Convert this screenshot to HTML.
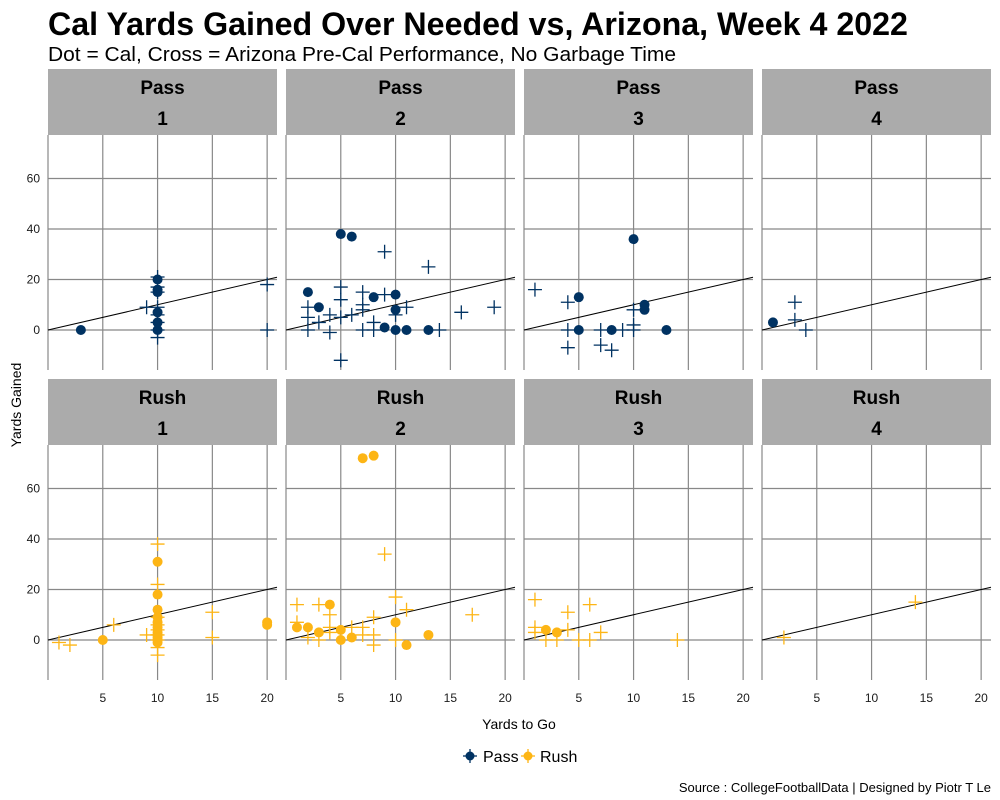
<!DOCTYPE html>
<html><head><meta charset="utf-8">
<style>
body{margin:0;background:#fff;}
svg{display:block;font-family:"Liberation Sans",Arial,sans-serif;}
</style></head>
<body>
<svg id="chart" width="1000" height="800" viewBox="0 0 1000 800">
<text x="48" y="35" font-size="32.2" font-weight="bold" fill="#000">Cal Yards Gained Over Needed vs, Arizona, Week 4 2022</text>
<text x="48" y="61" font-size="20" fill="#000" textLength="628" lengthAdjust="spacingAndGlyphs">Dot = Cal, Cross = Arizona Pre-Cal Performance, No Garbage Time</text>
<text transform="translate(21,405) rotate(-90)" text-anchor="middle" font-size="14" fill="#000">Yards Gained</text>
<text x="519" y="729" text-anchor="middle" font-size="14" fill="#000">Yards to Go</text>
<g>
  <g>
    <circle cx="470" cy="756" r="4.5" fill="#003262"/>
    <line x1="470" y1="749" x2="470" y2="763" stroke="#003262" stroke-width="1.3"/>
    <line x1="463" y1="756" x2="477" y2="756" stroke="#003262" stroke-width="1.3"/>
    <text x="483" y="762" font-size="16" fill="#000">Pass</text>
  </g>
  <g>
    <circle cx="528" cy="756" r="4.5" fill="#FDB515"/>
    <line x1="528" y1="749" x2="528" y2="763" stroke="#FDB515" stroke-width="1.3"/>
    <line x1="521" y1="756" x2="535" y2="756" stroke="#FDB515" stroke-width="1.3"/>
    <text x="540" y="762" font-size="16" fill="#000">Rush</text>
  </g>
</g>
<text x="991" y="792" text-anchor="end" font-size="13" fill="#000">Source : CollegeFootballData | Designed by Piotr T Le</text>
<g id="panels"></g>
</svg>
<script>
// data: [down, yardsToGo, yardsGained]
const downs = [1, 2, 3, 4];
const playTypes = ["Pass", "Rush"];
const yTicks = [0, 20, 40, 60];
const xTicks = [5, 10, 15, 20];
const calPass = [
 [1,3,0],[1,10,20],[1,10,16],[1,10,15],[1,10,7],[1,10,3],[1,10,0],
 [2,2,15],[2,3,9],[2,5,38],[2,6,37],[2,8,13],[2,10,14],[2,10,8],[2,9,1],[2,10,0],[2,11,0],[2,13,0],
 [3,5,13],[3,5,0],[3,10,36],[3,11,10],[3,11,8],[3,8,0],[3,13,0],
 [4,1,3]
];
const azPass = [
 [1,10,21],[1,10,17],[1,10,15],[1,10,9],[1,10,6],[1,10,3],[1,10,0],[1,10,-3],[1,9,9],[1,20,18],[1,20,0],
 [2,2,9],[2,2,5],[2,2,0],[2,3,3],[2,4,6],[2,4,-1],[2,5,17],[2,5,12],[2,5,5],[2,5,-12],[2,6,6],[2,7,15],[2,7,10],[2,7,8],[2,7,0],[2,8,3],[2,8,0],[2,9,31],[2,9,14],[2,10,6],[2,11,9],[2,13,25],[2,14,0],[2,16,7],[2,19,9],
 [3,1,16],[3,4,11],[3,4,0],[3,4,-7],[3,7,0],[3,7,-6],[3,8,-8],[3,9,0],[3,10,8],[3,10,2],[3,10,0],
 [4,3,11],[4,3,4],[4,4,0]
];
const calRush = [
 [1,5,0],[1,10,31],[1,10,18],[1,10,12],[1,10,9],[1,10,7],[1,10,5],[1,10,3],[1,10,2],[1,10,1],[1,10,0],[1,10,-1],[1,20,7],[1,20,6],
 [2,7,72],[2,8,73],[2,1,5],[2,2,5],[2,3,3],[2,4,14],[2,5,4],[2,5,0],[2,6,1],[2,10,7],[2,11,-2],[2,13,2],
 [3,2,4],[3,3,3]
];
const azRush = [
 [1,1,-1],[1,2,-2],[1,6,6],[1,9,2],[1,10,38],[1,10,22],[1,10,9],[1,10,6],[1,10,4],[1,10,2],[1,10,0],[1,10,-3],[1,10,-6],[1,15,11],[1,15,1],
 [2,1,14],[2,1,7],[2,2,1],[2,3,14],[2,3,0],[2,4,10],[2,4,5],[2,4,3],[2,6,5],[2,7,5],[2,7,2],[2,8,9],[2,8,2],[2,8,-2],[2,9,34],[2,10,17],[2,10,0],[2,11,12],[2,17,10],
 [3,1,16],[3,1,5],[3,1,3],[3,2,0],[3,3,0],[3,4,11],[3,4,4],[3,5,0],[3,6,14],[3,6,0],[3,7,3],[3,14,0],
 [4,2,1],[4,14,15]
];
const NS = "http://www.w3.org/2000/svg";
const root = document.getElementById("panels");
const colors = {Pass:"#003262", Rush:"#FDB515"};
const xMin = 0, xMax = 20.9;
function mk(tag, attrs, parent){
  const e = document.createElementNS(NS, tag);
  for (const k in attrs) e.setAttribute(k, attrs[k]);
  parent.appendChild(e);
  return e;
}
function panelBox(row, col){
  const left = 48 + col*238, w = 229;
  const top = row===0 ? 135 : 445, bottom = row===0 ? 370 : 680;
  return {left, w, top, bottom};
}
function xScale(b, v){ return b.left + (v - xMin) / (xMax - xMin) * b.w; }
function yScale(row, v){
  const zero = row===0 ? 330 : 640;
  return zero - v * 2.525;
}
playTypes.forEach((pt, row) => {
  downs.forEach((d, col) => {
    const b = panelBox(row, col);
    const g = mk("g", {}, root);
    
    
    const stripTop = b.top - 66;
    const strip = mk("rect", {x:b.left, y:stripTop, width:b.w, height:66, fill:"#ababab"}, g);
    
    
    const s1 = mk("text", {x:b.left+b.w/2, y:stripTop+25, "text-anchor":"middle", "font-size":19, "font-weight":"bold", fill:"#000"}, g);
    s1.textContent = pt;
    
    
    const s2 = mk("text", {x:b.left+b.w/2, y:stripTop+56, "text-anchor":"middle", "font-size":19, "font-weight":"bold", fill:"#000"}, g);
    s2.textContent = String(d);
    
    
    xTicks.forEach(t => {
      const x = xScale(b, t);
      const l = mk("line", {x1:x, x2:x, y1:b.top, y2:b.bottom, stroke:"#888", "stroke-width":1.2}, g);
      
      
      if (row===1){
        const tx = mk("text", {x:x, y:702, "text-anchor":"middle", "font-size":12, fill:"#1a1a1a"}, g);
        tx.textContent = String(t);
        
        
      }
    });
    yTicks.forEach(t => {
      const y = yScale(row, t);
      const l = mk("line", {x1:b.left, x2:b.left+b.w, y1:y, y2:y, stroke:"#888", "stroke-width":1.2}, g);
      
      
      if (col===0){
        const ty = mk("text", {x:40, y:y+4, "text-anchor":"end", "font-size":12, fill:"#1a1a1a"}, g);
        ty.textContent = String(t);
        
        
      }
    });
    const ax = mk("line", {x1:b.left, x2:b.left, y1:b.top, y2:b.bottom, stroke:"#888", "stroke-width":1.2}, g);
    
    
    const ref = mk("line", {x1:xScale(b,xMin), y1:yScale(row,xMin), x2:xScale(b,xMax), y2:yScale(row,xMax), stroke:"#000", "stroke-width":1}, g);
    
    
    const col_ = colors[pt];
    const crosses = pt==="Pass" ? azPass : azRush;
    const dots = pt==="Pass" ? calPass : calRush;
    crosses.filter(p => p[0]===d).forEach(p => {
      const cx = xScale(b, p[1]), cy = yScale(row, p[2]);
      const c = mk("path", {d:`M${cx-7},${cy}H${cx+7}M${cx},${cy-7}V${cy+7}`, stroke:col_, "stroke-width":1.3, fill:"none"}, g);
      
      
    });
    dots.filter(p => p[0]===d).forEach(p => {
      const c = mk("circle", {cx:xScale(b, p[1]), cy:yScale(row, p[2]), r:5, fill:col_}, g);
      
      
    });
  });
});
</script>
</body></html>
